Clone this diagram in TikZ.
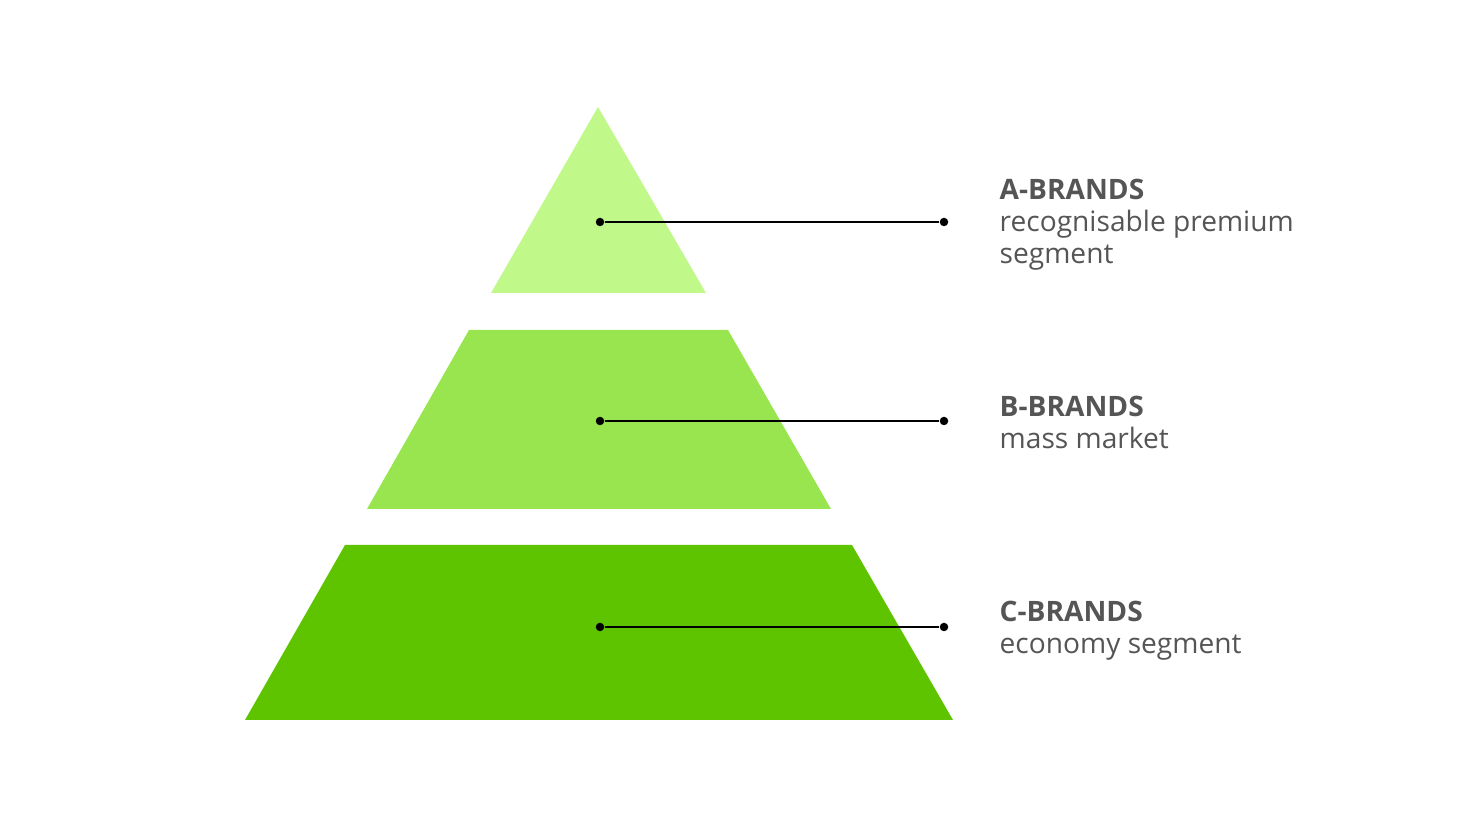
\documentclass[tikz,border=0pt]{standalone}
\usepackage{fontspec}
\setmainfont{Open Sans}
\usetikzlibrary{positioning}
\definecolor{tiertop}{HTML}{C0F88A}
\definecolor{tiermid}{HTML}{98E550}
\definecolor{tierlow}{HTML}{5FC400}
\definecolor{labelgray}{HTML}{555555}

\begin{document}
\begin{tikzpicture}[x=0.01cm, y=-0.01cm,
        tier/.style={draw=none},
        dot/.style={circle, fill=black, inner sep=0pt, minimum size=0.085cm},
        lead/.style={line width=0.6pt, black},
        brand/.style={anchor=base west, inner sep=0pt, align=left, text=labelgray,
          font=\fontsize{8}{9.1}\selectfont}
      ]
        \useasboundingbox (0,0) rectangle (1466,825);

        % pyramid tiers
        \fill[tier, tiertop] (598,107) -- (706,293) -- (491,293) -- cycle;
        \fill[tier, tiermid] (469,330) -- (728,330) -- (831,509) -- (367,509) -- cycle;
        \fill[tier, tierlow] (345,545) -- (852,545) -- (953,720) -- (245,720) -- cycle;

        \node[dot] (a1) at (600,222) {};
        \node[dot] (a2) at (944,222) {};
        \node[dot] (b1) at (600,421) {};
        \node[dot] (b2) at (944,421) {};
        \node[dot] (c1) at (600,627) {};
        \node[dot] (c2) at (944,627) {};

        \draw[lead] (a1) -- (a2);
        \draw[lead] (b1) -- (b2);
        \draw[lead] (c1) -- (c2);

        % labels, anchored at the baseline of their last line
        \node[brand] (A) at (999,264) {\textbf{A-BRANDS}\\recognisable premium\\segment};
        \node[brand] (B) at (999,449) {\textbf{B-BRANDS}\\mass market};
        \node[brand] (C) at (999,654) {\textbf{C-BRANDS}\\economy segment};
      \end{tikzpicture}
\end{document}
